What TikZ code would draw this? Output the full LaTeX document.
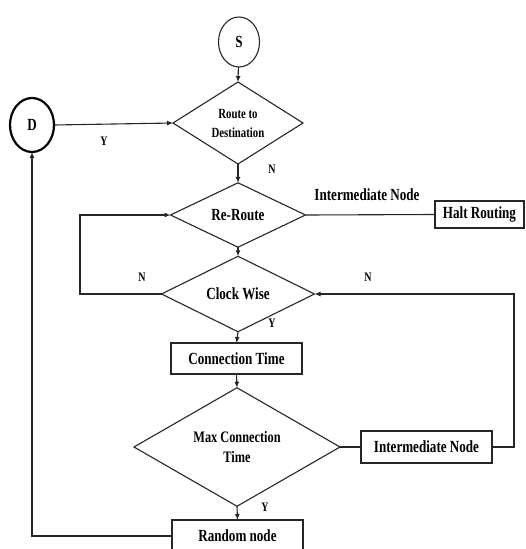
\documentclass[tikz,border=0pt]{standalone}
\usepackage{fontspec}
\setmainfont{Liberation Serif}[FakeStretch=0.77]
\usetikzlibrary{shapes.geometric,arrows.meta}
\begin{document}
\begin{tikzpicture}[x=1pt,y=-1pt,
  every node/.style={font=\bfseries\fontsize{17}{18}\selectfont, inner sep=0pt, outer sep=0pt},
  line/.style={draw=black!85, line width=1.1pt},
  arr/.style={line, -{Latex[length=6pt,width=5pt]}},
  dia/.style={diamond, draw=black!85, line width=1.1pt, align=center},
  boxn/.style={rectangle, draw=black!85, line width=1.1pt},
  lab/.style={font=\bfseries\fontsize{13}{14}\selectfont}]
\useasboundingbox (0,0) rectangle (525,549);
% nodes
\node[ellipse, draw=black!85, line width=1.1pt, minimum width=41pt, minimum height=50pt] (S) at (239,42) {S};
\node[ellipse, draw=black, line width=2.2pt, minimum width=44pt, minimum height=54pt] (D) at (32,125) {D};
\node[dia, minimum width=130pt, minimum height=82pt, font=\bfseries\fontsize{14}{19}\selectfont] (route) at (238,123) {Route to\\Destination};
\node[dia, minimum width=135pt, minimum height=60pt] (reroute) at (238,215) {Re-Route};
\node[dia, minimum width=153pt, minimum height=48pt] (clock) at (238,294) {Clock Wise};
\node[boxn, minimum width=131pt, minimum height=31pt] (conn) at (236.5,358.5) {Connection Time};
\node[dia, minimum width=206pt, minimum height=93pt, font=\bfseries\fontsize{16}{20}\selectfont] (maxc) at (237,447) {Max Connection\\Time};
\node[boxn, minimum width=131pt, minimum height=32pt] (inter) at (426.5,447) {Intermediate Node};
\node[boxn, minimum width=89pt, minimum height=27pt] (halt) at (479.5,214.5) {Halt Routing};
\node[boxn, minimum width=131pt, minimum height=32pt] (random) at (237.5,536) {Random node};
% labels
\node[lab] (ly1) at (104,141) {Y};
\node[lab] (ln1) at (272,169) {N};
\node (lint) at (367,195) {Intermediate Node};
\node[lab] (ln2) at (142,277) {N};
\node[lab] (ln3) at (368,277) {N};
\node[lab] (ly2) at (272,323) {Y};
\node[lab] (ly3) at (265,507) {Y};
% corner coordinates
\coordinate (c1) at (80,294);
\coordinate (c2) at (80,215);
\coordinate (c3) at (514,447);
\coordinate (c4) at (514,294);
\coordinate (c5) at (32,536);
% connectors
\draw[arr] (S) -- (route.north);
\draw[arr] (D.east) -- (route.west);
\draw[arr] (route.south) -- (reroute.north);
\draw[line] (reroute.east) -- (halt.west);
\draw[arr] (reroute.south) -- (clock.north);
\draw[arr] (clock.west) -- (c1) -- (c2) -- (reroute.west);
\draw[arr] (inter.east) -- (c3) -- (c4) -- (clock.east);
\draw[arr] (clock.south) -- (conn.north);
\draw[arr] (conn.south) -- (maxc.north);
\draw[line] (maxc.east) -- (inter.west);
\draw[arr] (maxc.south) -- (random.north);
\draw[arr] (random.west) -- (c5) -- (D.south);
\end{tikzpicture}
\end{document}
